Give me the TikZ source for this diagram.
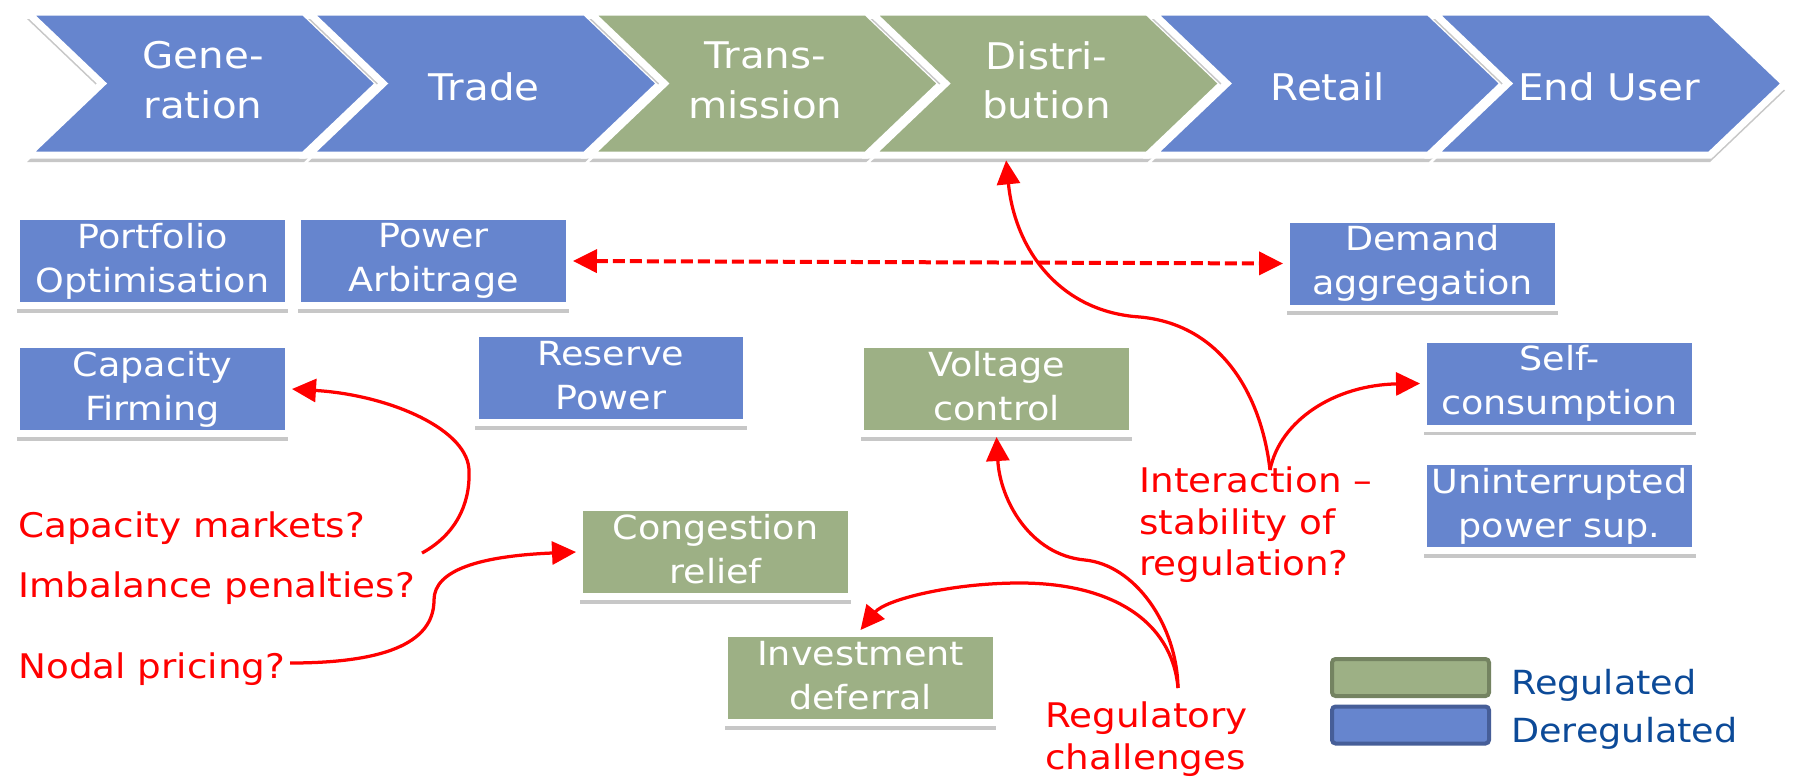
\documentclass[tikz,border=0pt]{standalone}
\usepackage{fontspec}
\setmainfont{DejaVu Sans}[FakeStretch=1.1]
\usetikzlibrary{arrows.meta, shadows}
\definecolor{dereg}{RGB}{102,133,206}
\definecolor{reg}{RGB}{157,176,133}
\definecolor{deregline}{RGB}{70,94,152}
\definecolor{regline}{RGB}{116,131,97}
\definecolor{legendtext}{RGB}{12,74,152}
\definecolor{note}{RGB}{255,0,0}

\newcommand{\boxfont}{\fontsize{18.9pt}{25pt}\selectfont}
\newcommand{\notefont}{\fontsize{19.3pt}{23.8pt}\selectfont}
\newcommand{\chevfont}{\fontsize{20.9pt}{28.3pt}\selectfont}

\tikzset{
  boxshadow/.style={drop shadow={shadow xshift=0pt, shadow yshift=-4pt, opacity=0.22, fill=black}},
  chevframe/.style={draw=white, line width=0.14cm, line join=miter, boxshadow},
  chevtext/.style={text=white, font=\chevfont, align=center, inner sep=0pt,
    minimum height=3cm,
    execute at begin node={\rule{0pt}{0.8cm}},
    execute at end node={\rule[-0.2cm]{0pt}{0.2cm}}},
  stepbox/.style={rectangle, draw=white, line width=0.14cm, minimum width=5.44cm,
    minimum height=1.78cm, inner sep=0pt, text=white, font=\boxfont, align=center,
    boxshadow,
    execute at begin node={\rule{0pt}{0.68cm}},
    execute at end node={\rule[-0.12cm]{0pt}{0.12cm}}},
  deregbox/.style={stepbox, fill=dereg},
  regbox/.style={stepbox, fill=reg},
  legendbox/.style={rectangle, rounded corners=2pt, line width=0.08cm,
    minimum width=3.14cm, minimum height=0.74cm, inner sep=0pt},
  legtxt/.style={text=legendtext, font=\boxfont, inner sep=0pt, anchor=base west},
  redtxt/.style={text=note, font=\notefont, align=left, inner sep=0pt},
  redcurve/.style={draw=note, line width=0.065cm, -{Triangle[length=0.48cm, width=0.46cm]}},
  reddash/.style={draw=note, line width=0.08cm, dash pattern=on 0.24cm off 0.1cm,
    {Triangle[length=0.48cm, width=0.46cm]}-{Triangle[length=0.48cm, width=0.46cm]}}
}

\begin{document}
\begin{tikzpicture}[x=0.02cm, y=-0.02cm]
  \fill[white] (0,0) rectangle (1797,778);
  \useasboundingbox (0,0) rectangle (1797,778);

  % value chain
  \foreach \i/\col/\nm/\txt in {0/dereg/gen/{Gene-\\ration}, 1/dereg/trade/Trade,
      2/reg/trans/{Trans-\\mission}, 3/reg/dist/{Distri-\\bution},
      4/dereg/retail/Retail, 5/dereg/enduser/End User} {
    \draw[chevframe, fill=\col] ({27+281.2*\i},12) -- ++(277,0) -- ++(75,71.5)
      -- ++(-75,71.5) -- ++(-277,0) -- ++(75,-71.5) -- cycle;
    \node[chevtext] (\nm) at ({203+281.2*\i},85) {\txt};
  }

  % services
  \node[deregbox] (port) at (152.5,261) {Portfolio\\Optimisation};
  \node[deregbox] (arb) at (433.5,261) {Power\\Arbitrage};
  \node[deregbox] (capfirm) at (152.5,389) {Capacity\\Firming};
  \node[deregbox] (reserve) at (611,378) {Reserve\\Power};
  \node[deregbox] (demand) at (1422.5,263.5) {Demand\\aggregation};
  \node[regbox] (volt) at (996.5,389) {Voltage\\control};
  \node[deregbox] (selfc) at (1559.5,383.5) {Self-\\consumption};
  \node[deregbox] (ups) at (1559.5,506) {Uninterrupted\\power sup.};
  \node[regbox] (congest) at (715.5,552) {Congestion\\relief};
  \node[regbox] (invest) at (860.5,678) {Investment\\deferral};

  % questions
  \node[redtxt, anchor=base west] (capmkt) at (18,537) {Capacity markets?};
  \node[redtxt, anchor=base west] (imbal) at (18,597) {Imbalance penalties?};
  \node[redtxt, anchor=base west] (nodal) at (18,678) {Nodal pricing?};
  \node[redtxt, anchor=north west] (interact) at (1139,458)
    {\rule{0pt}{0.68cm}Interaction –\\stability of\\regulation?};
  \node[redtxt, anchor=north west] (regch) at (1045,693)
    {\rule{0pt}{0.68cm}Regulatory\\challenges};

  % legend
  \node[legendbox, fill=reg, draw=regline] (legreg) at (1410.5,677.5) {};
  \node[legendbox, fill=dereg, draw=deregline] (legdereg) at (1410.5,725) {};
  \node[legtxt] (legregtxt) at (1511,694) {Regulated};
  \node[legtxt] (legderegtxt) at (1511,742) {Deregulated};

  \coordinate (capend) at (422,553);
  \coordinate (nodalend) at (290,663);
  \coordinate (regtop) at (1178,688);
  \coordinate (inttop) at (1270,470);

  \draw[reddash] (arb.east) -- (demand.west);
  \draw[redcurve] (capend) .. controls (455,535) and (470,505) .. (469,472)
    .. controls (470,430) and (390,395) .. (capfirm.east);
  \draw[redcurve] (nodalend) .. controls (380,663) and (434,645) .. (434,600)
    .. controls (434,570) and (480,556) .. (congest.west);
  \draw[redcurve] (regtop) .. controls (1177,625) and (1135,565) .. (1085,560)
    .. controls (1030,555) and (1000,500) .. (volt.south);
  \draw[redcurve] (regtop) .. controls (1172,620) and (1110,583) .. (1020,583)
    .. controls (950,583) and (885,600) .. (invest.north);
  \draw[redcurve] (inttop) .. controls (1262,400) and (1225,325) .. (1140,317)
    .. controls (1060,312) and (1015,250) .. ([xshift=-0.81cm]dist.south);
  \draw[redcurve] (inttop) .. controls (1280,420) and (1335,385) .. (selfc.west);
\end{tikzpicture}
\end{document}
